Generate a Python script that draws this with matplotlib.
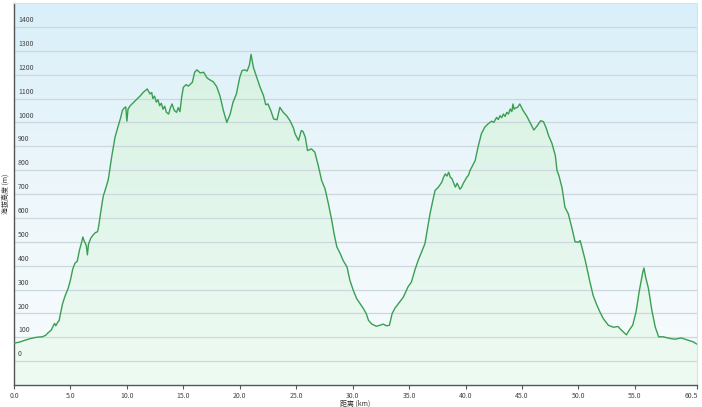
import numpy as np
import matplotlib
matplotlib.use('Agg')
import matplotlib.pyplot as plt
import matplotlib.transforms as mtransforms
from matplotlib.colors import LinearSegmentedColormap

plt.rcParams['font.family'] = ['Noto Sans CJK SC', 'DejaVu Sans']

# 距离 (km) / 海拔 (m)
dist_km = [0.0, 0.5, 1.0, 1.5, 2.0, 2.5, 2.8, 3.0, 3.3, 3.5, 3.6, 3.7, 3.9, 4.0,
           4.1, 4.3, 4.5, 4.8, 5.0, 5.2, 5.4, 5.6, 5.8, 6.0, 6.1, 6.2, 6.4, 6.5,
           6.6, 6.8, 7.0, 7.2, 7.4, 7.5, 7.7, 7.9, 8.1, 8.35, 8.65, 8.95, 9.2,
           9.45, 9.6, 9.75, 9.9, 10.0, 10.1, 10.3, 10.6, 10.9, 11.2, 11.45, 11.8,
           12.05, 12.2, 12.3, 12.45, 12.6, 12.75, 12.9, 13.05, 13.2, 13.35, 13.5,
           13.7, 13.85, 14.0, 14.2, 14.4, 14.55, 14.7,
           14.85, 15.0, 15.25, 15.45, 15.65, 15.8, 16.0, 16.2, 16.5, 16.8, 17.1,
           17.35, 17.65, 17.95, 18.25, 18.55, 18.85, 19.15, 19.4, 19.7, 20.0,
           20.2, 20.45, 20.65, 20.85, 21.0, 21.2, 21.5, 21.8, 22.1, 22.3, 22.5,
           22.75, 23.0, 23.3, 23.55, 23.85, 24.15, 24.45, 24.75, 24.9, 25.2,
           25.45, 25.6, 25.8, 26.0, 26.35, 26.65, 26.95, 27.25, 27.55, 27.85,
           28.15, 28.35, 28.6, 28.9, 29.15, 29.5, 29.75, 30.05, 30.35, 30.65,
           30.95, 31.2, 31.4, 31.7, 32.1, 32.4, 32.7, 33.0, 33.25, 33.5, 33.75,
           34.05, 34.5, 34.9, 35.2, 35.5, 35.8, 36.1, 36.4, 36.6, 36.85, 37.1,
           37.3, 37.6, 37.9, 38.05, 38.2, 38.35, 38.5, 38.65, 38.8, 38.95, 39.1,
           39.25, 39.35, 39.5, 39.65, 39.8, 39.95, 40.1, 40.25,
           40.4, 40.85, 41.1, 41.4, 41.7, 42.0, 42.3, 42.5, 42.75, 42.9, 43.05,
           43.2, 43.35, 43.5, 43.65, 43.8, 43.95, 44.1,
           44.2, 44.3, 44.4, 44.6, 44.8, 45.1, 45.4, 45.7, 46.05, 46.35, 46.65,
           46.9, 47.15, 47.25, 47.35, 47.65, 47.95, 48.1, 48.25, 48.55, 48.8, 49.1,
           49.4, 49.7, 50.0, 50.15, 50.3, 50.6, 51.0, 51.3, 51.6, 51.9, 52.2,
           52.65, 53.1, 53.5, 53.8, 54.25, 54.5, 54.8, 55.1, 55.4, 55.7, 55.8,
           55.95, 56.2, 56.5, 56.8, 57.1, 57.5, 58.1, 58.55, 59.1, 59.7, 60.15,
           60.5]
elev_m = [75, 80, 88, 95, 100, 102, 108, 118, 130, 150, 158, 148, 165, 170,
          195, 240, 270, 305, 340, 385, 410, 418, 465, 500, 520, 505, 485, 445,
          490, 515, 528, 538, 542, 565, 630, 690, 720, 760, 855, 938, 980,
          1020, 1050, 1060, 1065, 1005, 1056, 1070, 1084, 1098, 1112, 1126, 1140,
          1119, 1125, 1100, 1110, 1085, 1095, 1070, 1080, 1055, 1068, 1042,
          1035, 1060, 1077, 1050, 1042, 1062, 1045,
          1105, 1147, 1158, 1152, 1161, 1168, 1210, 1220, 1207, 1210, 1186,
          1178, 1170, 1150, 1110, 1049, 1000, 1035, 1084, 1119, 1189,
          1217, 1220, 1215, 1240, 1285, 1231, 1189, 1147, 1112, 1074, 1077,
          1049, 1014, 1011, 1063, 1042, 1028, 1007, 977, 952, 924,
          966, 962, 938, 882, 889, 875, 819, 757, 722, 659,
          589, 534, 478, 450, 422, 394, 339, 297, 262, 241,
          220, 199, 171, 155, 146, 150, 155, 148, 150, 200, 222,
          241, 269, 311, 331, 380, 422, 457, 492, 548, 617, 673,
          715, 729, 750, 770, 784, 775, 791, 770, 764, 745, 729,
          745, 736, 720, 729, 745, 757, 770, 778,
          799, 840, 896, 952, 980, 994, 1005, 1000, 1021, 1012, 1028,
          1020, 1035, 1025, 1042, 1035, 1056, 1045,
          1077, 1055, 1060, 1063, 1077, 1049, 1028, 1000, 968, 986, 1007,
          1003, 975, 960, 945, 912, 861, 798, 780, 725, 645, 617,
          561, 500, 498, 505, 478, 422, 335, 275, 238, 206, 178,
          150, 142, 145, 130, 110, 130, 150, 206, 297, 373, 390,
          352, 304, 213, 143, 102, 102, 95, 92, 97, 88, 81,
          71]

x_ticks = [0, 5, 10, 15, 20, 25, 30, 35, 40, 45, 50, 55, 60.5]
y_ticks = list(range(0, 1500, 100))

fig = plt.figure(figsize=(7.02, 4.07), dpi=100)
ax = fig.add_axes([14 / 702, 22 / 407, 683 / 702, 382 / 407])
x0, x1, y0, y1 = 0, 60.5, -100, 1500
ax.set_xlim(x0, x1)
ax.set_ylim(y0, y1)

# 背景渐变：上蓝下白
bg = LinearSegmentedColormap.from_list('bg', ['#f8fcfd', '#eef7fb', '#d9eff9'])
grad = np.linspace(0, 1, 256).reshape(-1, 1)
ax.imshow(grad, cmap=bg, extent=[x0, x1, y0, y1], origin='lower',
          aspect='auto', zorder=0)

# 曲线下方的绿色渐变填充
fill = ax.fill_between(dist_km, elev_m, y0, color='none', zorder=1)
gr = LinearSegmentedColormap.from_list('gr', ['#eefbf3', '#e3f6eb', '#d8f2e3'])
im = ax.imshow(grad, cmap=gr, extent=[x0, x1, y0, 1300], origin='lower',
               aspect='auto', zorder=1)
im.set_clip_path(fill.get_paths()[0], transform=ax.transData)

for y in y_ticks:
    ax.axhline(y, color='#ccd8de', lw=0.9, zorder=2)

ax.plot(dist_km, elev_m, color='#3a9f52', lw=1.0, zorder=3)

ax.set_yticks([])
ax.set_xticks(x_ticks)
ax.set_xticklabels(['%.1f' % v for v in x_ticks], fontsize=5, color='#444444')
ax.tick_params(axis='x', length=3, width=0.8, color='#555555', pad=2)
last = ax.get_xticklabels()[-1]
last.set_transform(last.get_transform() +
                   mtransforms.ScaledTranslation(-6 / 100, 0, fig.dpi_scale_trans))

for y in y_ticks:
    ax.text(0.006, y + 12, str(y), transform=ax.get_yaxis_transform(),
            fontsize=5, color='#444444', ha='left', va='bottom')

ax.set_xlabel('距离 (km)', fontsize=5, color='#333333', labelpad=0)
ax.set_ylabel('海拔高度 (m)', fontsize=5, color='#333333', labelpad=3)

for s in ['left', 'bottom']:
    ax.spines[s].set_color('#555555')
    ax.spines[s].set_linewidth(1.0)
for s in ['top', 'right']:
    ax.spines[s].set_color('#d6e4ea')
    ax.spines[s].set_linewidth(0.8)

fig.savefig('out.png', dpi=100)
